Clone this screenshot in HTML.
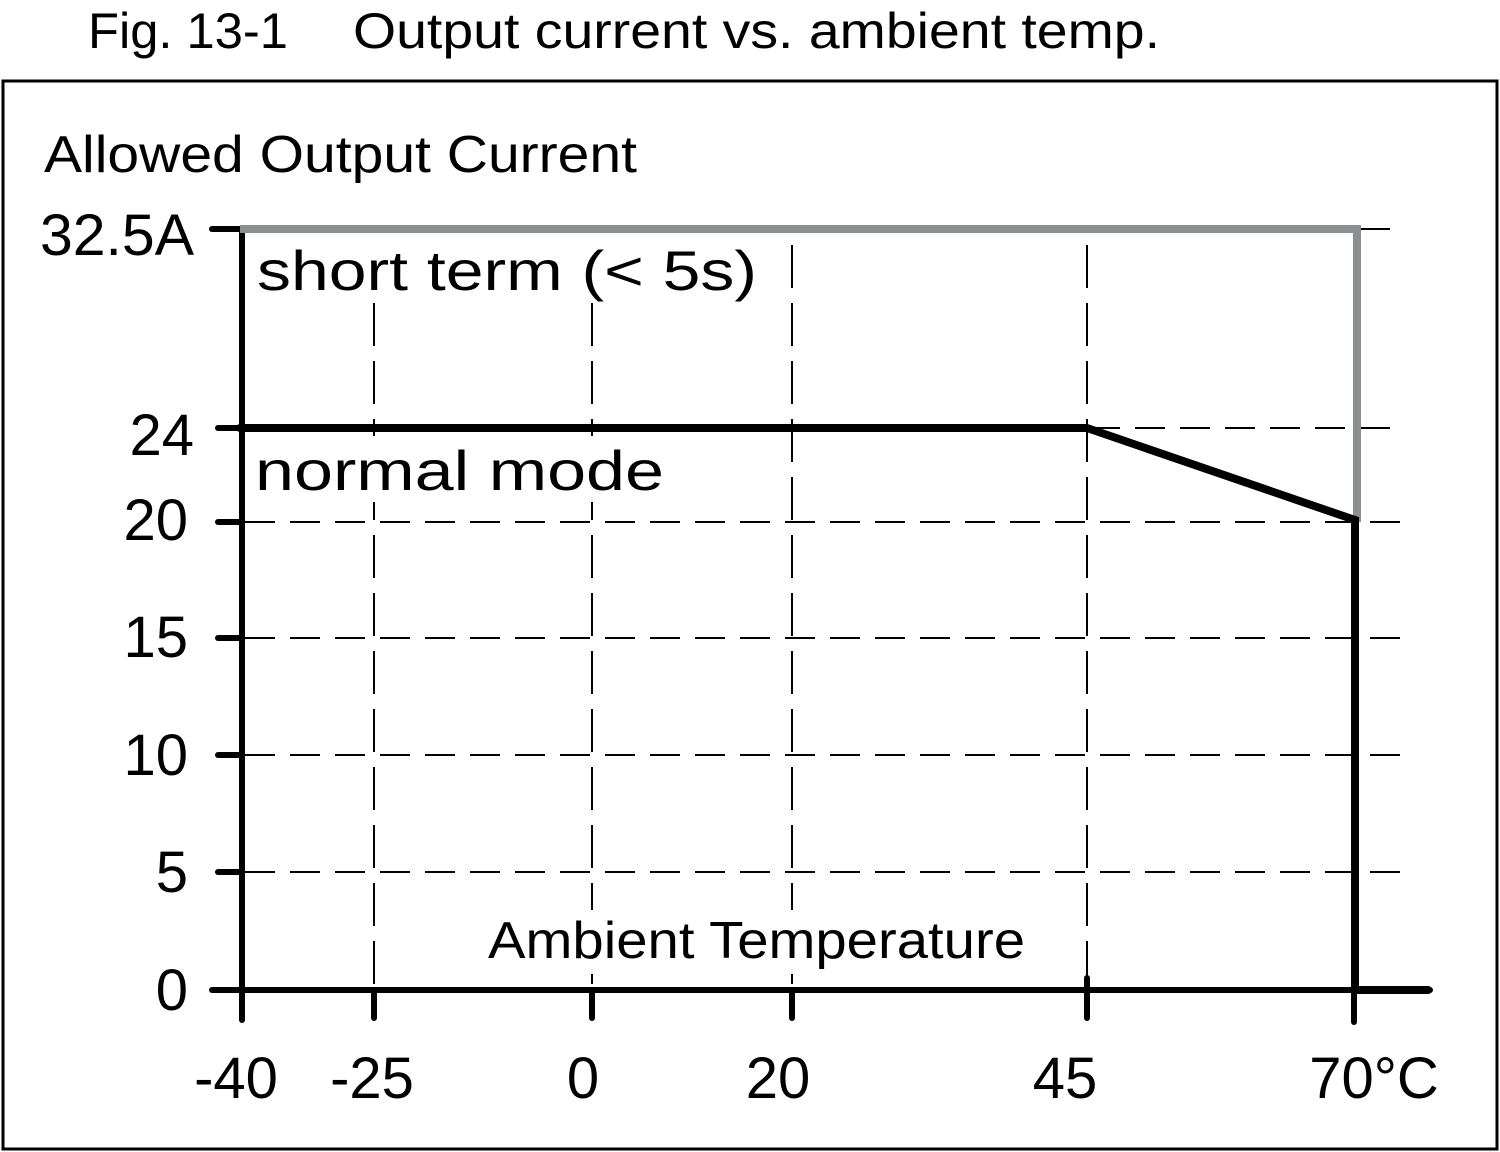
<!DOCTYPE html>
<html><head><meta charset="utf-8"><style>
html,body{margin:0;padding:0;background:#fff}
svg{display:block}
text{font-family:"Liberation Sans","DejaVu Sans",sans-serif;fill:#000}
</style></head><body>
<svg width="1500" height="1152" viewBox="0 0 1500 1152" xmlns="http://www.w3.org/2000/svg">
<text x="88" y="48" font-size="50" textLength="200" lengthAdjust="spacingAndGlyphs">Fig. 13-1</text>
<text x="353" y="48" font-size="50" textLength="807" lengthAdjust="spacingAndGlyphs">Output current vs. ambient temp.</text>
<rect x="3" y="81" width="1494" height="1068" fill="none" stroke="#000" stroke-width="3"/>
<text x="44" y="172" font-size="52" textLength="593" lengthAdjust="spacingAndGlyphs">Allowed Output  Current</text>
<g stroke="#000" stroke-width="2" stroke-dasharray="30,15" fill="none">
<line x1="245" y1="522" x2="1400" y2="522"/>
<line x1="245" y1="638" x2="1400" y2="638"/>
<line x1="245" y1="755" x2="1400" y2="755"/>
<line x1="245" y1="872" x2="1400" y2="872"/>
<line x1="1090" y1="428" x2="1400" y2="428"/>
<line x1="1360" y1="229" x2="1400" y2="229"/>
</g>
<g stroke="#000" stroke-width="2" stroke-dasharray="43,15" fill="none">
<line x1="374" y1="245" x2="374" y2="990"/>
<line x1="592" y1="245" x2="592" y2="990"/>
<line x1="792" y1="245" x2="792" y2="990"/>
<line x1="1087" y1="245" x2="1087" y2="990"/>
</g>
<rect x="250" y="234" width="520" height="68" fill="#fff"/>
<rect x="250" y="436" width="428" height="66" fill="#fff"/>
<rect x="482" y="910" width="550" height="64" fill="#fff"/>
<text x="257" y="290" font-size="56" textLength="500" lengthAdjust="spacingAndGlyphs">short term (&lt; 5s)</text>
<text x="255" y="490" font-size="56" textLength="409" lengthAdjust="spacingAndGlyphs">normal mode</text>
<text x="488" y="958" font-size="52" textLength="537" lengthAdjust="spacingAndGlyphs">Ambient Temperature</text>
<g stroke="#000" stroke-width="6" stroke-linecap="round">
<line x1="242" y1="229" x2="242" y2="1020"/>
<line x1="212" y1="229" x2="242" y2="229"/>
<line x1="218" y1="428" x2="242" y2="428"/>
<line x1="218" y1="522" x2="242" y2="522"/>
<line x1="218" y1="638" x2="242" y2="638"/>
<line x1="218" y1="755" x2="242" y2="755"/>
<line x1="218" y1="872" x2="242" y2="872"/>
<line x1="212" y1="990" x2="1430" y2="990"/>
<line x1="374" y1="990" x2="374" y2="1018"/>
<line x1="592" y1="990" x2="592" y2="1018"/>
<line x1="792" y1="990" x2="792" y2="1018"/>
<line x1="1087" y1="978" x2="1087" y2="1018"/>
<line x1="1354" y1="990" x2="1354" y2="1022"/>
</g>
<polyline points="240,229 1357,229 1357,522" fill="none" stroke="#8c8f92" stroke-width="8"/>
<polyline points="240,428 1087,428 1355,520 1355,990 1428,990" fill="none" stroke="#000" stroke-width="8" stroke-linejoin="miter" stroke-linecap="round"/>
<g font-size="58" text-anchor="end">
<text x="194" y="255" textLength="154" lengthAdjust="spacingAndGlyphs">32.5A</text>
<text x="194" y="455">24</text>
<text x="188" y="540">20</text>
<text x="188" y="657">15</text>
<text x="188" y="775">10</text>
<text x="188" y="892">5</text>
<text x="188" y="1010">0</text>
</g>
<g font-size="58" text-anchor="middle">
<text x="236" y="1098">-40</text>
<text x="372" y="1098">-25</text>
<text x="583" y="1098">0</text>
<text x="778" y="1098">20</text>
<text x="1065" y="1098">45</text>
<text x="1374" y="1098">70°C</text>
</g>
</svg>
</body></html>
